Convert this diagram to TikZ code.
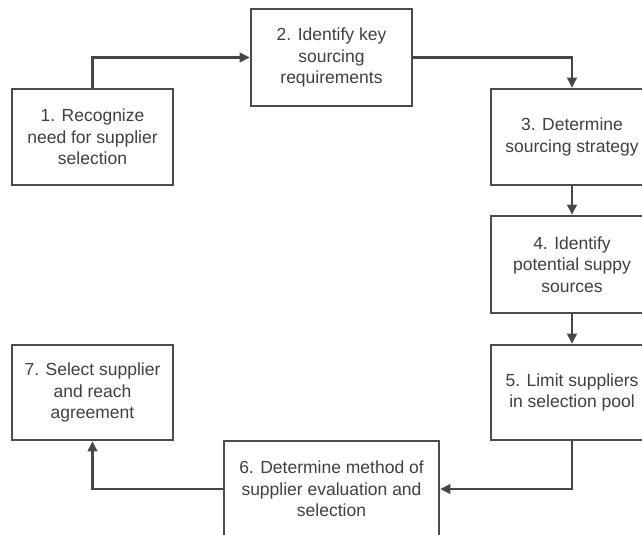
\documentclass[tikz,border=0pt]{standalone}
\usepackage{fontspec}
\setmainfont{Liberation Sans}
\usetikzlibrary{arrows.meta}
\begin{document}
\begin{tikzpicture}[x=1pt,y=-1pt,
  stepbox/.style={draw=black!70,line width=2.6pt,fill=white,align=center,
    text=black!75,font=\fontsize{17.5}{21.5}\selectfont,inner sep=0pt},
  conn/.style={draw=black!72,line width=2.2pt,-{Triangle[length=10pt,width=9.5pt]}}]
\useasboundingbox (0,0) rectangle (642,535);
\clip (0,0) rectangle (642,535);
\node[stepbox,minimum width=161pt,minimum height=96pt] (b1) at (92.5,137) {1. Recognize\\need for supplier\\selection};
\node[stepbox,minimum width=161pt,minimum height=97pt] (b2) at (331.5,57.5) {2. Identify key\\sourcing\\requirements};
\node[stepbox,minimum width=162pt,minimum height=96pt] (b3) at (572,137) {3. Determine\\sourcing strategy};
\node[stepbox,minimum width=162pt,minimum height=97pt] (b4) at (572,264.5) {4. Identify\\potential suppy\\sources};
\node[stepbox,minimum width=162pt,minimum height=95pt] (b5) at (572,392.5) {5. Limit suppliers\\in selection pool};
\node[stepbox,minimum width=215pt,minimum height=96pt] (b6) at (331.5,489) {6. Determine method of\\supplier evaluation and\\selection};
\node[stepbox,minimum width=161pt,minimum height=95pt] (b7) at (92.5,392.5) {7. Select supplier\\and reach\\agreement};
\draw[conn] (b1.north) |- (b2.west);
\draw[conn] (b2.east) -| (b3.north);
\draw[conn] (b3.south) -- (b4.north);
\draw[conn] (b4.south) -- (b5.north);
\draw[conn] (b5.south) |- (b6.east);
\draw[conn] (b6.west) -| (b7.south);
\end{tikzpicture}
\end{document}
